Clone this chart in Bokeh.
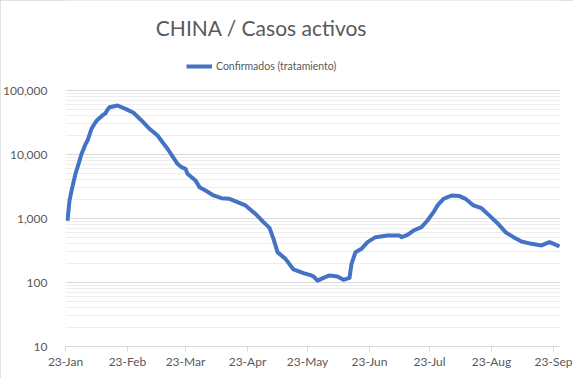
import pandas as pd
from bokeh.plotting import figure
from bokeh.models import (Range1d, FixedTicker, NumeralTickFormatter, DatetimeTickFormatter,
                          Legend, LegendItem, ColumnDataSource, Label)
from bokeh.embed import file_html
from bokeh.resources import INLINE

# ---- data ----
dates = ["2020-01-24", "2020-01-25", "2020-01-26", "2020-01-27", "2020-01-28", "2020-01-29",
         "2020-01-31", "2020-02-02", "2020-02-03", "2020-02-05", "2020-02-07", "2020-02-08",
         "2020-02-11", "2020-02-12", "2020-02-13", "2020-02-14", "2020-02-18", "2020-02-22",
         "2020-02-26", "2020-03-01", "2020-03-05", "2020-03-09", "2020-03-14", "2020-03-19",
         "2020-03-21", "2020-03-23", "2020-03-24", "2020-03-25", "2020-03-28", "2020-03-30",
         "2020-04-02", "2020-04-06", "2020-04-10", "2020-04-14", "2020-04-18", "2020-04-22",
         "2020-04-27", "2020-05-01", "2020-05-04", "2020-05-06", "2020-05-08", "2020-05-12",
         "2020-05-16", "2020-05-21", "2020-05-25", "2020-05-26", "2020-05-28", "2020-05-31",
         "2020-06-03", "2020-06-07", "2020-06-10", "2020-06-13", "2020-06-14", "2020-06-16",
         "2020-06-19", "2020-06-22", "2020-06-26", "2020-07-02", "2020-07-08", "2020-07-09",
         "2020-07-12", "2020-07-15", "2020-07-19", "2020-07-22", "2020-07-25", "2020-07-27",
         "2020-07-30", "2020-08-03", "2020-08-07", "2020-08-10", "2020-08-14", "2020-08-18",
         "2020-08-22", "2020-08-26", "2020-08-30", "2020-09-03", "2020-09-07", "2020-09-12",
         "2020-09-17", "2020-09-21", "2020-09-24", "2020-09-26"]
confirmados = [920, 1900, 2700, 3700, 5000, 6300,
               10200, 14500, 16500, 25200, 32000, 35000,
               42000, 44000, 50000, 54900, 58300, 51700,
               44800, 34000, 25200, 19800, 12300, 7150,
               6340, 5980, 4990, 4700, 3930, 3090,
               2740, 2290, 2080, 2030, 1800, 1600,
               1180, 877, 714, 481, 298, 234,
               160, 140, 129, 124, 107, 118,
               129, 124, 110, 118, 196, 298,
               336, 427, 511, 542, 542, 511,
               556, 649, 733, 931, 1256, 1600,
               2030, 2290, 2240, 2030, 1600, 1450,
               1110, 845, 611, 511, 438, 402,
               379, 427, 390, 365]

tick_dates = ["2020-01-23", "2020-02-23", "2020-03-23", "2020-04-23", "2020-05-23",
              "2020-06-23", "2020-07-23", "2020-08-23", "2020-09-23"]
y_ticks = [10, 100, 1000, 10000, 100000]

title_text = "CHINA / Casos activos"
series_name = "Confirmados (tratamiento)"

# ---- figure ----
x = pd.to_datetime(dates)
src = ColumnDataSource(dict(x=x, y=confirmados))

x_start = pd.Timestamp("2020-01-23")
x_end = pd.Timestamp("2020-09-26 12:00")

GREY_TXT = "#595959"
FONT = "Lato"

# plot frame spans the full height above the x axis; the decades 10..100,000
# take the lower 256 px, the upper 90 px hold title and legend
FRAME_H = 346
DECADE_PX = 64
y_top = 10 ** (1 + FRAME_H / DECADE_PX)

p = figure(width=573, height=378, x_axis_type="datetime", y_axis_type="log",
           x_range=Range1d(x_start, x_end), y_range=Range1d(10, y_top),
           output_backend="svg", toolbar_location=None,
           min_border_left=64, min_border_right=13, min_border_top=0, min_border_bottom=32,
           styles={"outline": "1px solid #D9D9D9", "outline-offset": "-1px"})

p.outline_line_color = None
p.background_fill_color = "white"
p.border_fill_color = "white"

r = p.line("x", "y", source=src, line_color="#4472C4", line_width=4, line_join="round")

# y axis
minor = [m * 10 ** e for e in range(1, 5) for m in range(2, 10)]
p.yaxis.ticker = FixedTicker(ticks=y_ticks, minor_ticks=minor)
p.yaxis.formatter = NumeralTickFormatter(format="0,0")
p.yaxis.axis_line_color = None
p.yaxis.major_tick_line_color = None
p.yaxis.minor_tick_line_color = None
p.yaxis.major_label_text_font = FONT
p.yaxis.major_label_text_font_size = "12px"
p.yaxis.major_label_text_color = GREY_TXT
p.yaxis.major_label_standoff = 12

p.ygrid.grid_line_color = "#D9D9D9"
p.ygrid.minor_grid_line_color = "#EEEEEE"
p.xgrid.grid_line_color = None

# x axis
p.xaxis.ticker = FixedTicker(ticks=[pd.Timestamp(d).value / 1e6 for d in tick_dates])
fmt = "%d-%b"
p.xaxis.formatter = DatetimeTickFormatter(days=fmt, months=fmt, years=fmt, hours=fmt,
                                          minutes=fmt, seconds=fmt, milliseconds=fmt,
                                          microseconds=fmt, minsec=fmt, hourmin=fmt)
p.xaxis.axis_line_color = "#D9D9D9"
p.xaxis.major_tick_line_color = "#D9D9D9"
p.xaxis.major_tick_out = 5
p.xaxis.major_tick_in = 0
p.xaxis.minor_tick_line_color = None
p.xaxis.major_label_text_font = FONT
p.xaxis.major_label_text_font_size = "12px"
p.xaxis.major_label_text_color = GREY_TXT
p.xaxis.major_label_standoff = 2

title = Label(x=196, y=319, x_units="screen", y_units="screen", text=title_text,
              text_align="center", text_baseline="middle", text_font=FONT,
              text_font_size="21px", text_color=GREY_TXT)
p.add_layout(title)

legend = Legend(items=[LegendItem(label=series_name, renderers=[r])],
                orientation="horizontal", location=(121, 274),
                border_line_color=None, background_fill_alpha=0,
                label_text_font=FONT, label_text_font_size="10.5px", label_text_color=GREY_TXT,
                glyph_width=26, glyph_height=10, label_standoff=4, padding=2, margin=0)
p.add_layout(legend)

open("out.html", "w").write(file_html(p, INLINE))
